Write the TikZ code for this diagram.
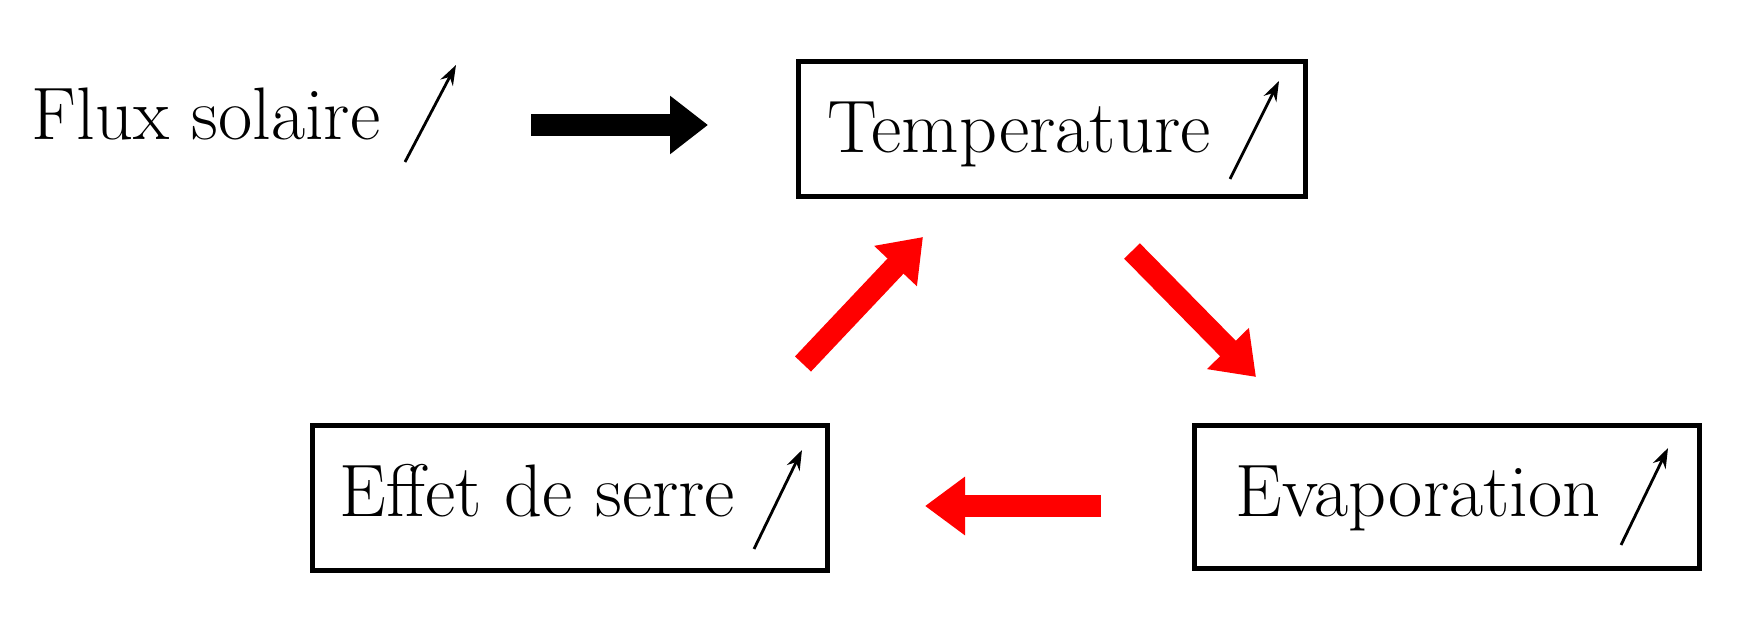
\documentclass[tikz,border=0pt]{standalone}
\usetikzlibrary{arrows.meta}
\begin{document}
\begin{tikzpicture}[x=0.25pt,y=-0.25pt,
  box/.style={draw=black,line width=1.3pt,inner sep=0pt,rectangle},
  lbl/.style={anchor=base west,inner sep=0pt,font=\fontsize{18.6}{22}\selectfont},
  up/.style={line width=0.7pt,-{Stealth[length=5pt,width=3.5pt]}},
  bigblack/.style={line width=5.5pt,draw=black,-{Triangle[width=14pt,length=9.5pt]}},
  bigred/.style={line width=5.5pt,draw=red,-{Triangle[width=14pt,length=10pt]}}]
\useasboundingbox (0,0) rectangle (1756,618);
% boxes
\node[box,minimum width=126.7pt,minimum height=33.7pt] (temp) at (1052,129) {};
\node[box,minimum width=128.7pt,minimum height=36.2pt] (effet) at (570,498) {};
\node[box,minimum width=126.2pt,minimum height=35.7pt] (evap) at (1447,497) {};
% labels
\node[lbl] (fluxl) at (31,140) {Flux solaire};
\node[lbl] (templ) at (827,153) {Temperature};
\node[lbl] (effetl) at (339,517) {Effet de serre};
\node[lbl] (evapl) at (1235,517) {Evaporation};
% small increase arrows
\coordinate (f0) at (405,162); \coordinate (f1) at (456,65);
\coordinate (t0) at (1230,179); \coordinate (t1) at (1279,81);
\coordinate (e0) at (754,549); \coordinate (e1) at (802,450);
\coordinate (v0) at (1621,545); \coordinate (v1) at (1668,448);
\draw[up] (f0) -- (f1);
\draw[up] (t0) -- (t1);
\draw[up] (e0) -- (e1);
\draw[up] (v0) -- (v1);
% big arrows
\coordinate (b0) at (531,125); \coordinate (b1) at (708,125);
\draw[bigblack] (b0) -- (b1);
\coordinate (r0) at (803,364); \coordinate (r1) at (923,237);
\draw[bigred] (r0) -- (r1);
\coordinate (d0) at (1132,251); \coordinate (d1) at (1256,377);
\draw[bigred] (d0) -- (d1);
\coordinate (l0) at (1101,506); \coordinate (l1) at (925,506);
\draw[bigred] (l0) -- (l1);
\end{tikzpicture}
\end{document}
